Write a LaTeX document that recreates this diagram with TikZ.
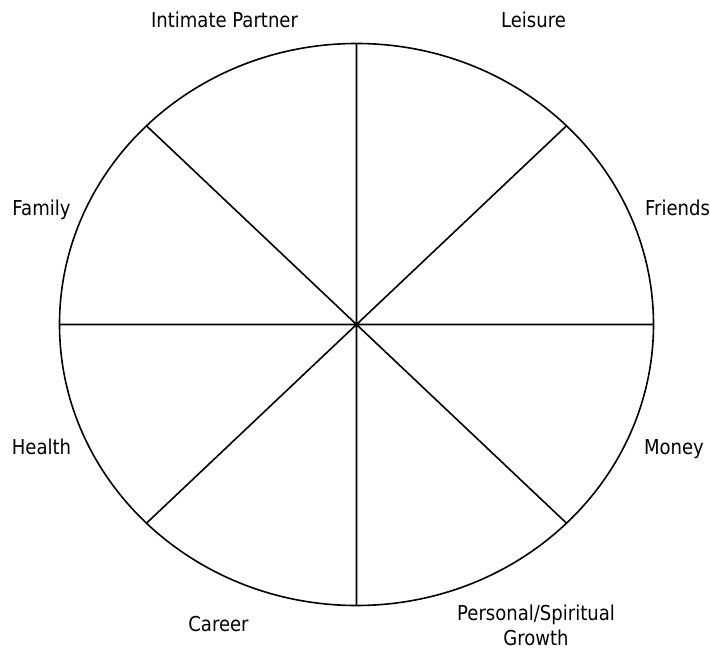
\documentclass[tikz,border=0pt]{standalone}
\usepackage{fontspec}
\setmainfont{DejaVu Sans}[FakeStretch=0.88]
\usepackage{tikz}
\usetikzlibrary{calc}

\begin{document}
\begin{tikzpicture}[x=1pt, y=-1pt,
    %Option for the wheel
    rim/.style={line width=1.6pt},
    spoke/.style={line width=1.6pt},
    area/.style={font=\fontsize{20.5}{25}\selectfont, inner sep=0pt, anchor=base, align=center},
]
    \useasboundingbox (0,0) rectangle (710,650);

    % Wheel
    \coordinate (C) at (356.5, 324.5);
    \draw[rim] (C) ellipse [x radius=297, y radius=281];

    % Spokes, from the hub to the rim
    \foreach \a/\name in {0/east, 45/se, 90/south, 135/sw, 180/west, 225/nw, 270/north, 315/ne}{
        \coordinate (\name) at ($(C)+(\a:297 and 281)$);
    }
    \draw[spoke] (north) -- (south)
                 (west)  -- (east)
                 (nw)    -- (se)
                 (ne)    -- (sw);

    % Areas of life
    \node[area] (partner)  at (224.5, 27.3) {Intimate Partner};
    \node[area] (leisure)  at (533.5, 27.3) {Leisure};
    \node[area] (family)   at (41.5, 215)   {Family};
    \node[area] (friends)  at (677.5, 215)  {Friends};
    \node[area] (health)   at (41.5, 454)   {Health};
    \node[area] (money)    at (674, 454)    {Money};
    \node[area] (career)   at (218.5, 631)  {Career};
    \node[area, anchor=center] (growth) at (536, 625.5) {Personal/Spiritual\\Growth};
\end{tikzpicture}
\end{document}
